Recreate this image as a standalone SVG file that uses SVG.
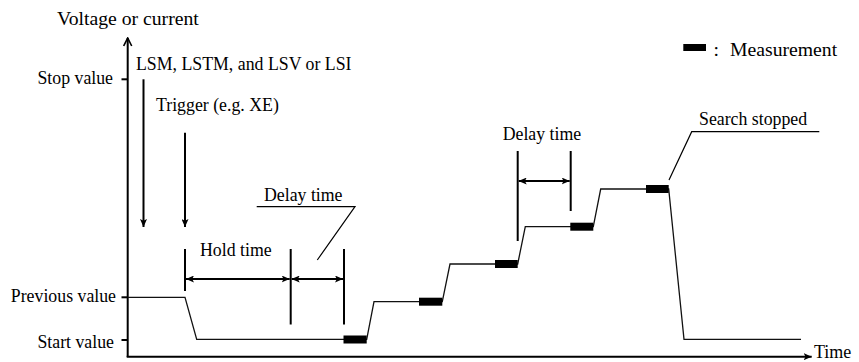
<svg xmlns="http://www.w3.org/2000/svg" width="859" height="362" viewBox="0 0 859 362">
<style>
.lbl{font-size:17.8px}
.big{font-size:19.7px}
.ax{stroke:#000;stroke-width:2;fill:none}
.dim{stroke:#000;stroke-width:2;fill:none}
.thin{stroke:#000;stroke-width:1.2;fill:none}
.wave{stroke:#111;stroke-width:1.3;fill:none;stroke-linejoin:miter}
.meas{fill:#000}
</style>
<defs>
<marker id="ah" viewBox="0 0 8 7" refX="8" refY="3.5" markerWidth="8" markerHeight="7" markerUnits="userSpaceOnUse" orient="auto-start-reverse">
<path d="M0,0 L8,3.5 L0,7 L1.8,3.5 Z" fill="#000"/>
</marker>
<marker id="open" viewBox="0 0 10 10" refX="9" refY="5" markerWidth="10" markerHeight="10" markerUnits="userSpaceOnUse" orient="auto">
<path d="M1,1 L9,5 L1,9" fill="none" stroke="#000" stroke-width="1.6"/>
</marker>
</defs>
<rect width="859" height="362" fill="#fff"/>
<g font-family="'Liberation Serif', 'Times New Roman', Tinos, 'DejaVu Serif', serif" fill="#000">

<g id="axes">
<line class="ax" x1="127.7" y1="357" x2="127.7" y2="38" marker-end="url(#open)"/>
<line class="ax" x1="126.7" y1="356.7" x2="811.7" y2="356.7" marker-end="url(#ah)"/>
<line class="ax" x1="121.5" y1="79.3" x2="127.7" y2="79.3"/>
<line class="ax" x1="121.5" y1="297.3" x2="127.7" y2="297.3"/>
<line class="ax" x1="121.5" y1="340" x2="127.7" y2="340"/>
<text class="big" x="57" y="25">Voltage or current</text>
<text class="lbl" x="113" y="84" text-anchor="end">Stop value</text>
<text class="lbl" x="116" y="302" text-anchor="end">Previous value</text>
<text class="lbl" x="114" y="348.3" text-anchor="end">Start value</text>
<text class="lbl" x="814" y="358" style="font-size:18px">Time</text>
</g>

<g id="waveform">
<polyline class="wave" points="127.7,297.3 185,297.3 196.7,339.3 366.7,339.3 374,301.7 442.3,301.7 450,264 517.7,264 525.3,226.7 593.3,226.7 600.7,189 668.7,189 684,339.3 801,339.3"/>
<rect class="meas" x="343.5" y="335.5" width="23.2" height="8"/>
<rect class="meas" x="419" y="297.7" width="23.3" height="8"/>
<rect class="meas" x="495" y="260" width="22.7" height="8"/>
<rect class="meas" x="570.3" y="222.7" width="23" height="8"/>
<rect class="meas" x="646" y="185" width="22.7" height="8"/>
</g>

<g id="commands">
<line class="dim" x1="143.5" y1="79.3" x2="143.5" y2="227" marker-end="url(#ah)"/>
<text class="lbl" x="136" y="69.5">LSM, LSTM, and LSV or LSI</text>
</g>

<g id="trigger">
<line class="dim" x1="185" y1="132.7" x2="185" y2="227" marker-end="url(#ah)"/>
<text class="lbl" x="156" y="110.5">Trigger (e.g. XE)</text>
</g>

<g id="hold-time">
<line class="dim" x1="185" y1="249" x2="185" y2="291"/>
<line class="dim" x1="290.7" y1="249" x2="290.7" y2="324.5"/>
<line class="dim" x1="344" y1="249" x2="344" y2="324.5"/>
<line class="dim" x1="186" y1="279" x2="289.7" y2="279" marker-start="url(#ah)" marker-end="url(#ah)"/>
<text class="lbl" x="200" y="256">Hold time</text>
</g>

<g id="delay-time-1">
<line class="dim" x1="291.7" y1="279" x2="343" y2="279" marker-start="url(#ah)" marker-end="url(#ah)"/>
<polyline class="thin" points="256.7,206.7 355,206.7 317.3,260"/>
<text class="lbl" x="264" y="200.5">Delay time</text>
</g>

<g id="delay-time-2">
<line class="dim" x1="517.7" y1="151" x2="517.7" y2="241"/>
<line class="dim" x1="570.7" y1="151" x2="570.7" y2="211"/>
<line class="dim" x1="518.7" y1="181" x2="569.7" y2="181" marker-start="url(#ah)" marker-end="url(#ah)"/>
<text class="lbl" x="502.7" y="140">Delay time</text>
</g>

<g id="search-stopped">
<polyline class="thin" points="819.3,131.7 691.7,131.7 669,180"/>
<text class="lbl" x="699" y="125">Search stopped</text>
</g>

<g id="legend">
<rect class="meas" x="683.3" y="44" width="22.7" height="7"/>
<text class="big" x="713.5" y="55.5">:</text>
<text class="big" x="730" y="55.5">Measurement</text>
</g>
</g>
</svg>
